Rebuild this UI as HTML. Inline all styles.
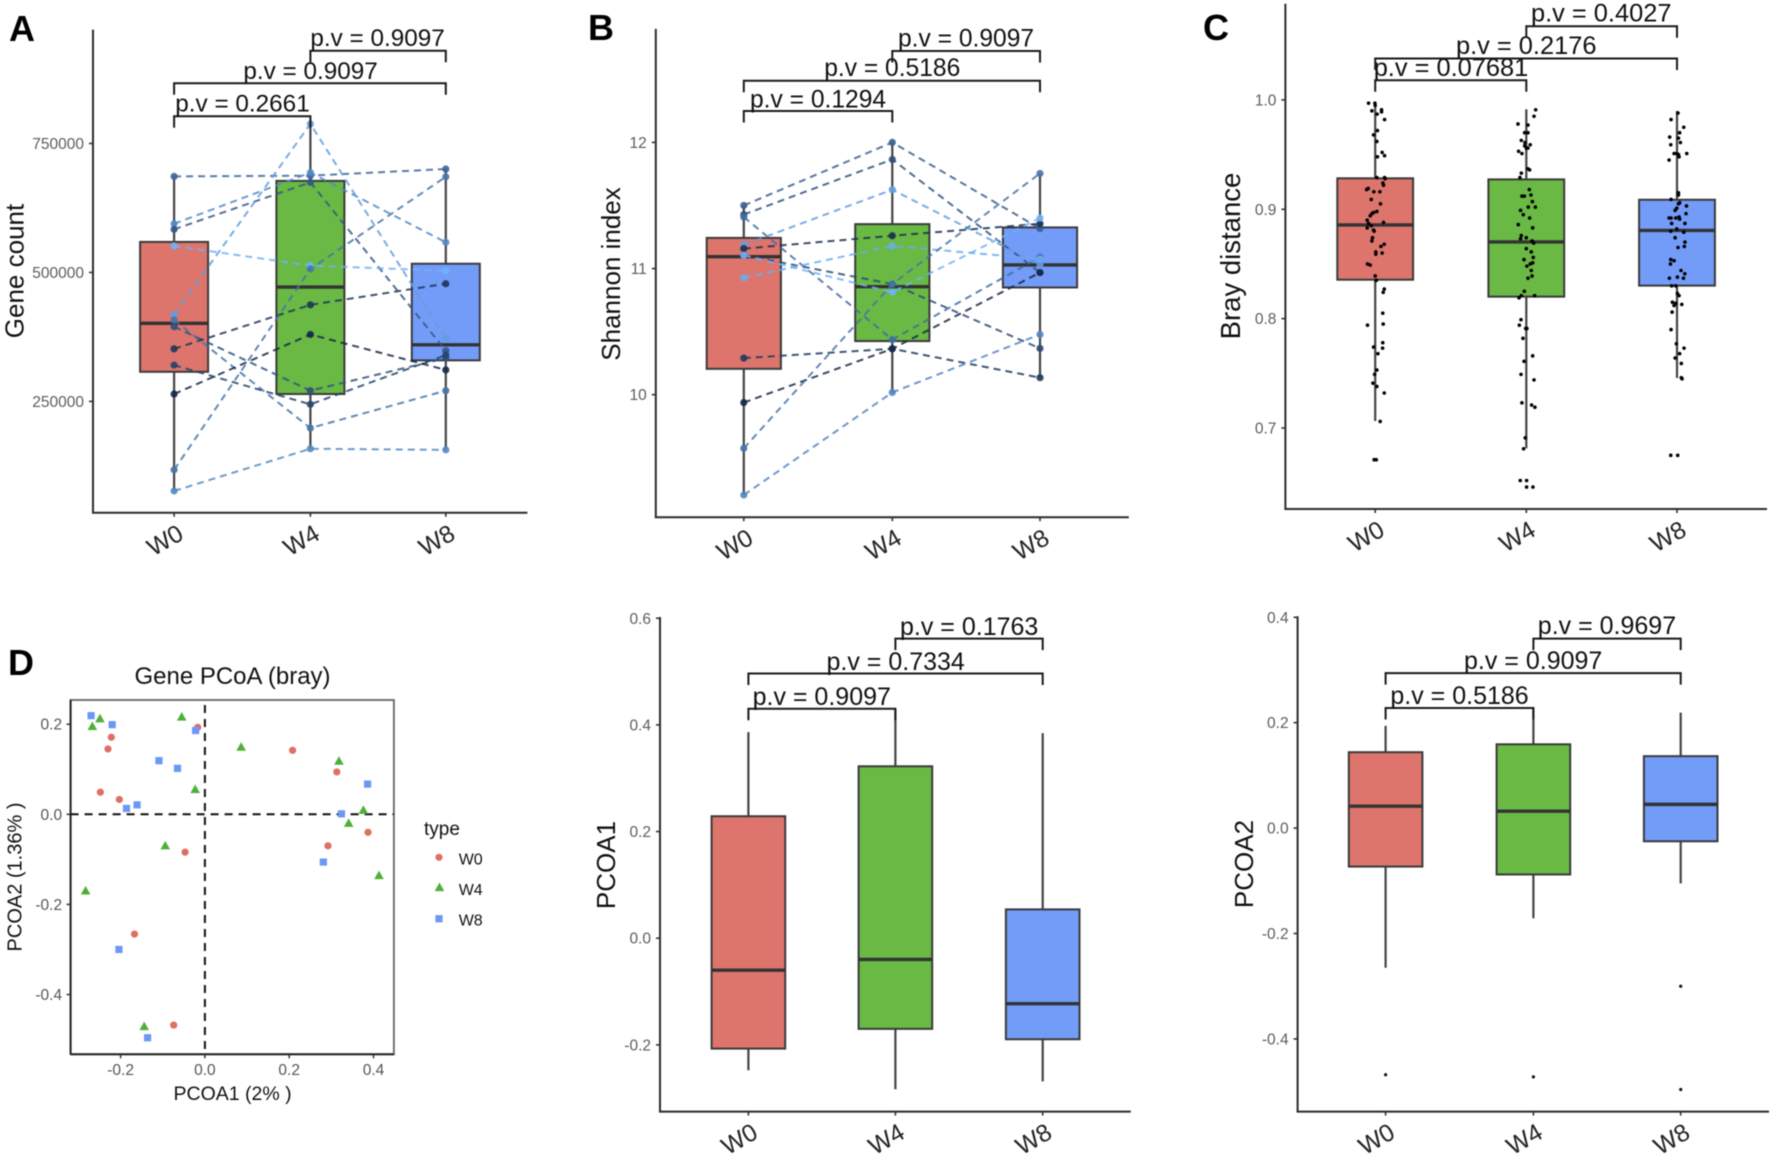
<!DOCTYPE html>
<html lang="en">
<head>
<meta charset="utf-8">
<title>Gene count, Shannon, Bray distance and PCoA panels</title>
<style>
html,body{margin:0;padding:0;background:#fff;width:1772px;height:1154px;overflow:hidden}
svg{display:block;font-family:"Liberation Sans",Arial,sans-serif;filter:blur(0.4px)}
.panel-letter{font-size:36px;font-weight:bold;fill:#000}
.ylab{font-size:26px;fill:#111}
</style>
</head>
<body>
<svg id="figure" xmlns="http://www.w3.org/2000/svg" width="1772" height="1154" viewBox="0 0 1772 1154">
  <rect width="1772" height="1154" fill="#fff"/>
  <text class="panel-letter" x="9" y="41">A</text>
  <text class="panel-letter" x="588" y="40">B</text>
  <text class="panel-letter" x="1203" y="40">C</text>
  <text class="panel-letter" x="8" y="675">D</text>

  <text class="ylab" transform="translate(23.7,271) rotate(-90)" text-anchor="middle">Gene count</text>
  <text class="ylab" transform="translate(619.8,274) rotate(-90)" text-anchor="middle">Shannon index</text>
  <text class="ylab" transform="translate(1240,256) rotate(-90)" text-anchor="middle" style="font-size:27.5px">Bray distance</text>
  <text class="ylab" transform="translate(615,865) rotate(-90)" text-anchor="middle">PCOA1</text>
  <text class="ylab" transform="translate(1253,864) rotate(-90)" text-anchor="middle">PCOA2</text>

  <text x="232.5" y="684" text-anchor="middle" font-size="24" fill="#111">Gene PCoA (bray)</text>
  <text transform="translate(21.3,877) rotate(-90)" text-anchor="middle" font-size="20" fill="#111">PCOA2 (1.36% )</text>
  <text x="232.6" y="1100" text-anchor="middle" font-size="19.5" fill="#111">PCOA1 (2% )</text>
  <text x="424" y="835" font-size="19" fill="#111">type</text>
</svg>

<script>
/* ---------- shared data ---------- */
const categories = ['W0', 'W4', 'W8'];
const boxColors = ['#DD756D', '#69B944', '#739CF8'];

/* ---------- Panel A: gene count ---------- */
const geneTicks = [250000, 500000, 750000];
const geneTickLabels = ['250000', '500000', '750000'];
const geneLow = [76400, 158200, 156000];
const geneQ1 = [307400, 264300, 329600];
const geneMedian = [401400, 471700, 359800];
const geneQ3 = [559200, 677500, 516900];
const geneHigh = [686000, 788000, 700500];
const genePairsW0 = [686200, 594400, 583600, 551300, 418600, 407800, 394900, 351900, 320300, 264300, 117300, 76400];
const genePairsW4 = [687600, 693400, 674700, 513300, 788000, 198300, 270800, 437200, 244300, 379800, 506800, 158200];
const genePairsW8 = [700500, 558500, 348300, 503200, 372000, 270800, 333900, 478100, 339700, 311000, 685500, 156000];
const geneShade = [0.45, 0.7, 0.35, 1.0, 0.85, 0.55, 0.3, 0.1, 0.2, 0.0, 0.55, 0.7];
const genePValues = ['p.v = 0.2661', 'p.v = 0.9097', 'p.v = 0.9097'];

/* ---------- Panel B: Shannon index ---------- */
const shannonTicks = [10, 11, 12];
const shannonTickLabels = ['10', '11', '12'];
const shannonLow = [9.205, 10.018, 10.135];
const shannonQ1 = [10.205, 10.425, 10.850];
const shannonMedian = [11.094, 10.856, 11.029];
const shannonQ3 = [11.243, 11.352, 11.326];
const shannonHigh = [11.5, 12.0, 11.754];
const shannonPairsW0 = [11.5, 11.428, 11.408, 11.188, 11.158, 11.106, 11.106, 10.927, 10.29, 9.938, 9.575, 9.205];
const shannonPairsW4 = [12.0, 11.865, 10.437, 11.625, 11.26, 10.877, 10.812, 11.179, 10.364, 10.364, 10.877, 10.018];
const shannonPairsW8 = [11.317, 10.968, 11.09, 11.03, 11.355, 10.367, 11.40, 11.076, 10.135, 10.968, 11.754, 10.478];
const shannonShade = [0.4, 0.3, 0.5, 0.85, 0.05, 0.25, 1.0, 0.95, 0.12, 0.0, 0.55, 0.68];
const shannonPValues = ['p.v = 0.1294', 'p.v = 0.5186', 'p.v = 0.9097'];

/* ---------- Panel C: Bray distance ---------- */
const brayTicks = [0.7, 0.8, 0.9, 1.0];
const brayTickLabels = ['0.7', '0.8', '0.9', '1.0'];
const brayLow = [0.7064, 0.6814, 0.7457];
const brayQ1 = [0.8356, 0.8201, 0.8302];
const brayMedian = [0.8857, 0.8701, 0.8806];
const brayQ3 = [0.9283, 0.9273, 0.9087];
const brayHigh = [0.9983, 0.9915, 0.9898];
const brayPValues = ['p.v = 0.07681', 'p.v = 0.2176', 'p.v = 0.4027'];
const brayW0 = [.997,.997,.995,.990,.991,.989,.987,.982,.972,.968,.962,.952,.949,.948,.929,.929,.928,.924,.922,.919,.918,.916,.916,.909,.905,.898,.897,.896,.894,.890,.887,.888,.885,.883,.881,.880,.874,.871,.868,.866,.861,.859,.860,.850,.849,.839,.835,.827,.824,.805,.794,.795,.778,.774,.773,.768,.753,.749,.741,.738,.732,.706,.671,.671];
const jitterW0 = [-.044,-.002,0,-.022,.042,.042,.013,.062,.015,-.011,.011,.046,.062,.015,.011,.062,.066,.051,.055,-.046,-.057,-.009,.031,-.026,.035,.011,-.011,-.022,-.033,-.053,-.044,.055,-.026,-.053,-.011,-.007,-.018,-.022,.060,.038,.004,.004,.046,-.051,-.033,0,.007,.06,.053,.05,-.051,.053,.05,-.011,.049,.018,.011,-.004,-.015,.011,.06,.033,-.007,.007];
const brayW4 = [.991,.985,.978,.977,.970,.970,.963,.961,.959,.958,.956,.956,.953,.951,.937,.936,.933,.929,.918,.912,.912,.913,.907,.902,.902,.899,.895,.892,.886,.883,.876,.873,.874,.871,.869,.864,.861,.856,.854,.850,.851,.848,.844,.839,.837,.825,.821,.819,.821,.799,.794,.791,.791,.782,.766,.761,.749,.744,.723,.721,.719,.691,.681,.652,.652,.646,.646];
const jitterW4 = [.062,.051,-.055,.011,-.011,.011,-.033,-.009,.026,-.011,.011,0,-.051,-.029,.011,.022,-.033,-.042,.02,-.029,-.013,.031,.04,.06,.013,-.038,-.02,.022,-.053,.042,-.033,-.038,0,.038,.049,0,.033,.046,-.015,.026,.042,.004,.033,.038,.011,-.013,-.033,-.048,.055,-.035,-.046,-.004,.004,-.022,.042,-.015,-.035,.051,-.029,.035,.057,-.007,-.018,-.04,.002,.002,.044];
const brayW8 = [.988,.982,.975,.970,.966,.965,.961,.959,.951,.951,.951,.950,.948,.945,.915,.913,.909,.906,.905,.903,.901,.899,.896,.892,.892,.892,.893,.891,.887,.887,.880,.882,.879,.874,.870,.866,.865,.854,.853,.850,.844,.841,.838,.837,.837,.830,.830,.823,.821,.815,.812,.814,.813,.806,.790,.777,.773,.768,.764,.759,.746,.745,.675,.675];
const jitterW8 = [.004,-.042,.042,.015,-.051,.007,.020,-.044,-.022,-.004,.062,.007,.011,-.055,.007,.007,-.042,.015,.007,.06,-.004,-.015,.057,-.042,-.055,-.011,.011,.015,.05,-.038,-.044,-.004,.042,-.015,.05,.046,.004,-.044,-.022,-.046,.024,.049,0,.04,-.053,-.038,-.011,0,.011,-.033,-.022,-.011,.029,-.035,-.042,-.007,.044,.015,-.015,.026,.026,.031,-.044,.002];

/* ---------- Panel D: PCoA scatter ---------- */
const pcoaXTicks = [-0.2, 0, 0.2, 0.4];
const pcoaXTickLabels = ['-0.2', '0.0', '0.2', '0.4'];
const pcoaYTicks = [0.2, 0, -0.2, -0.4];
const pcoaYTickLabels = ['0.2', '0.0', '-0.2', '-0.4'];
const pcoaW0X = [-.017,-.222,-.230,.208,.313,-.248,-.203,.387,.292,-.047,-.167,-.074];
const pcoaW0Y = [.193,.171,.145,.142,.094,.049,.033,-.040,-.070,-.084,-.266,-.468];
const pcoaW4X = [-.249,-.267,-.055,.086,.318,-.023,.376,.341,-.094,.413,-.283,-.144];
const pcoaW4Y = [.212,.195,.216,.149,.118,.055,.009,-.020,-.070,-.136,-.170,-.471];
const pcoaW8X = [-.270,-.220,-.022,-.109,-.065,.386,-.161,-.186,.324,.281,-.204,-.136];
const pcoaW8Y = [.219,.199,.186,.119,.102,.067,.021,.013,.001,-.106,-.300,-.496];

/* ---------- Panel E: PCOA1 boxes ---------- */
const pc1Ticks = [-0.2, 0, 0.2, 0.4, 0.6];
const pc1TickLabels = ['-0.2', '0.0', '0.2', '0.4', '0.6'];
const pc1Low = [-0.2476, -0.2833, -0.2685];
const pc1Q1 = [-0.207, -0.170, -0.1895];
const pc1Median = [-0.060, -0.0398, -0.1228];
const pc1Q3 = [0.2287, 0.3224, 0.054];
const pc1High = [0.3865, 0.43, 0.3845];
const pc1PValues = ['p.v = 0.9097', 'p.v = 0.7334', 'p.v = 0.1763'];

/* ---------- Panel F: PCOA2 boxes ---------- */
const pc2Ticks = [-0.4, -0.2, 0, 0.2, 0.4];
const pc2TickLabels = ['-0.4', '-0.2', '0.0', '0.2', '0.4'];
const pc2Low = [-0.265, -0.171, -0.105];
const pc2Q1 = [-0.073, -0.088, -0.025];
const pc2Median = [0.0416, 0.032, 0.045];
const pc2Q3 = [0.144, 0.159, 0.1365];
const pc2High = [0.194, 0.227, 0.219];
const pc2OutlierGroup = [0, 1, 2, 2];
const pc2OutlierValue = [-0.468, -0.472, -0.300, -0.496];
const pc2PValues = ['p.v = 0.5186', 'p.v = 0.9097', 'p.v = 0.9697'];

/* ---------- drawing helpers ---------- */
const NS = 'http://www.w3.org/2000/svg';
const root = document.getElementById('figure');

function make(parent, tag, attrs, name) {
  const el = document.createElementNS(NS, tag);
  for (const k in attrs) el.setAttribute(k, attrs[k]);
  
  
  parent.appendChild(el);
  return el;
}
function label(parent, str, attrs, name) {
  const el = make(parent, 'text', attrs, name);
  el.textContent = str;
  return el;
}
function linear(v1, p1, v2, p2) {
  return v => p1 + (v - v1) * (p2 - p1) / (v2 - v1);
}
function shadeColor(t, a) {
  const lo = [20, 40, 70], hi = [112, 178, 250];
  const c = lo.map((l, i) => Math.round(l + (hi[i] - l) * t));
  return 'rgba(' + c[0] + ',' + c[1] + ',' + c[2] + ',' + a + ')';
}

function drawAxes(g, lay, y, ticks, tickLabels) {
  make(g, 'line', {x1: lay.left, x2: lay.left, y1: lay.top, y2: lay.bottom, stroke: '#2b2b2b', 'stroke-width': 2}, 'y-axis-line');
  make(g, 'line', {x1: lay.left - 1, x2: lay.right, y1: lay.bottom, y2: lay.bottom, stroke: '#2b2b2b', 'stroke-width': 2}, 'x-axis-line');
  ticks.forEach((t, i) => {
    make(g, 'line', {x1: lay.left - 4, x2: lay.left, y1: y(t), y2: y(t), stroke: '#333', 'stroke-width': 1.6}, 'y-tick');
    label(g, tickLabels[i], {x: lay.left - 9, y: y(t) + 5.5, 'text-anchor': 'end', 'font-size': 15.5, fill: '#5c5c5c'}, 'y-tick-label');
  });
  categories.forEach((c, i) => {
    const x = lay.cats[i];
    make(g, 'line', {x1: x, x2: x, y1: lay.bottom, y2: lay.bottom + 4, stroke: '#333', 'stroke-width': 1.6}, 'x-tick');
    label(g, c, {transform: 'translate(' + (x + 11) + ',' + (lay.bottom + 25.5) + ') rotate(-30)', 'text-anchor': 'end', 'font-size': 24.5, fill: '#222'}, 'x-tick-label');
  });
}

function drawBoxes(g, lay, y, low, q1, med, q3, high) {
  categories.forEach((c, i) => {
    const x = lay.cats[i];
    make(g, 'line', {x1: x, x2: x, y1: y(high[i]), y2: y(low[i]), stroke: '#444', 'stroke-width': 2.2}, 'whisker-' + c);
    make(g, 'rect', {x: x - lay.hw, y: y(q3[i]), width: lay.hw * 2, height: y(q1[i]) - y(q3[i]), fill: boxColors[i], stroke: '#3a3a3a', 'stroke-width': 2}, 'box-' + c);
    make(g, 'line', {x1: x - lay.hw, x2: x + lay.hw, y1: y(med[i]), y2: y(med[i]), stroke: '#333', 'stroke-width': 3.4}, 'median-' + c);
  });
}

function drawPairs(g, lay, y, a, b, c, shade) {
  a.forEach((v, i) => {
    const col = shadeColor(shade[i], 0.85);
    const pts = [a[i], b[i], c[i]].map((val, k) => lay.cats[k] + ',' + y(val)).join(' ');
    make(g, 'polyline', {points: pts, fill: 'none', stroke: col, 'stroke-width': 2, 'stroke-dasharray': '7 5'}, 'paired-line');
  });
  a.forEach((v, i) => {
    [a[i], b[i], c[i]].forEach((val, k) => {
      make(g, 'circle', {cx: lay.cats[k], cy: y(val), r: 3.6, fill: shadeColor(shade[i], 0.9)}, 'paired-point');
    });
  });
}

function drawBrackets(g, lay, pvals) {
  const spans = [[0, 1], [0, 2], [1, 2]];
  spans.forEach((s, i) => {
    const yb = lay.brackets[i], x1 = lay.cats[s[0]], x2 = lay.cats[s[1]];
    const d = 'M' + x1 + ' ' + (yb + 11.5) + 'V' + yb + 'H' + x2 + 'V' + (yb + 11.5);
    make(g, 'path', {d: d, fill: 'none', stroke: '#1a1a1a', 'stroke-width': 2}, 'significance-bracket');
    label(g, pvals[i], {x: lay.textX[i], y: lay.textY[i], 'font-size': lay.pSize, fill: '#111'}, 'p-value-label');
  });
}

function panel(name) {
  const g = make(root, 'g', {}, name);
  return g;
}

/* ---------- Panel A ---------- */
(function () {
  const lay = {left: 93, right: 527.4, top: 29.6, bottom: 512.8, cats: [174.1, 310.4, 445.8], hw: 34, pSize: 24.3,
    brackets: [116.2, 83.2, 50.7], textX: [175.3, 243.4, 310.4], textY: [111.4, 78.8, 46.2]};
  const g = panel('gene-count-panel');
  const y = linear(250000, 401.4, 750000, 143.5);
  drawAxes(g, lay, y, geneTicks, geneTickLabels);
  drawBoxes(g, lay, y, geneLow, geneQ1, geneMedian, geneQ3, geneHigh);
  drawPairs(g, lay, y, genePairsW0, genePairsW4, genePairsW8, geneShade);
  drawBrackets(g, lay, genePValues);
})();

/* ---------- Panel B ---------- */
(function () {
  const lay = {left: 655.8, right: 1128.8, top: 28.9, bottom: 517.2, cats: [743.8, 892.3, 1040], hw: 37.1, pSize: 24.6,
    brackets: [111, 80.7, 51], textX: [750, 824.2, 898], textY: [107.3, 76.2, 46.6]};
  const g = panel('shannon-panel');
  const y = linear(10, 394.7, 12, 142.4);
  drawAxes(g, lay, y, shannonTicks, shannonTickLabels);
  drawBoxes(g, lay, y, shannonLow, shannonQ1, shannonMedian, shannonQ3, shannonHigh);
  drawPairs(g, lay, y, shannonPairsW0, shannonPairsW4, shannonPairsW8, shannonShade);
  drawBrackets(g, lay, shannonPValues);
})();

/* ---------- Panel C ---------- */
(function () {
  const lay = {left: 1285.4, right: 1767, top: 3.7, bottom: 509, cats: [1375.2, 1526.3, 1677], hw: 37.9, pSize: 25.4,
    brackets: [80.3, 58.5, 26.3], textX: [1373.7, 1456, 1531], textY: [76.2, 54, 21.5]};
  const g = panel('bray-panel');
  const y = linear(0.7, 428, 1.0, 99.9);
  const x = linear(0, lay.cats[0], 1, lay.cats[1]);
  drawAxes(g, lay, y, brayTicks, brayTickLabels);
  drawBoxes(g, lay, y, brayLow, brayQ1, brayMedian, brayQ3, brayHigh);
  [[brayW0, jitterW0], [brayW4, jitterW4], [brayW8, jitterW8]].forEach((grp, k) => {
    grp[0].forEach((v, i) => {
      make(g, 'circle', {cx: x(k + grp[1][i]), cy: y(v), r: 1.8, fill: '#000'}, 'jitter-point-' + categories[k]);
    });
  });
  drawBrackets(g, lay, brayPValues);
})();

/* ---------- Panel D ---------- */
(function () {
  const g = panel('pcoa-scatter-panel');
  const x = linear(0, 204.9, 0.4, 373.5);
  const y = linear(0, 814.3, -0.4, 994.5);
  const box = {l: 70.6, r: 393.9, t: 700, b: 1054.3};
  make(g, 'rect', {x: box.l, y: box.t, width: box.r - box.l, height: box.b - box.t, fill: '#fff', stroke: '#666', 'stroke-width': 1.8}, 'plot-border');
  make(g, 'line', {x1: box.l, x2: box.l, y1: box.t, y2: box.b, stroke: '#222', 'stroke-width': 2}, 'plot-left-edge');
  make(g, 'line', {x1: box.l, x2: box.r, y1: box.b, y2: box.b, stroke: '#222', 'stroke-width': 2}, 'plot-bottom-edge');
  make(g, 'line', {x1: box.l, x2: box.r, y1: y(0), y2: y(0), stroke: '#111', 'stroke-width': 2, 'stroke-dasharray': '8 6'}, 'zero-line-horizontal');
  make(g, 'line', {x1: x(0), x2: x(0), y1: box.t + 5, y2: box.b, stroke: '#111', 'stroke-width': 2, 'stroke-dasharray': '8 6'}, 'zero-line-vertical');
  pcoaXTicks.forEach((t, i) => {
    make(g, 'line', {x1: x(t), x2: x(t), y1: box.b, y2: box.b + 4, stroke: '#333', 'stroke-width': 1.5}, 'x-tick');
    label(g, pcoaXTickLabels[i], {x: x(t), y: 1075, 'text-anchor': 'middle', 'font-size': 15.5, fill: '#555'}, 'x-tick-label');
  });
  pcoaYTicks.forEach((t, i) => {
    make(g, 'line', {x1: box.l - 4, x2: box.l, y1: y(t), y2: y(t), stroke: '#333', 'stroke-width': 1.5}, 'y-tick');
    label(g, pcoaYTickLabels[i], {x: box.l - 8.5, y: y(t) + 5.5, 'text-anchor': 'end', 'font-size': 15.5, fill: '#555'}, 'y-tick-label');
  });
  const red = '#DE6F64', green = '#4FB038', blue = '#6C97F5';
  function circle(px, py, r, name) { make(g, 'circle', {cx: px, cy: py, r: r, fill: red}, name); }
  function tri(px, py, name) { make(g, 'path', {d: 'M' + px + ' ' + (py - 5) + 'l4.8 8.6h-9.6z', fill: green}, name); }
  function square(px, py, name) { make(g, 'rect', {x: px - 3.6, y: py - 3.6, width: 7.2, height: 7.2, fill: blue}, name); }
  pcoaW0X.forEach((v, i) => circle(x(v), y(pcoaW0Y[i]), 3.6, 'point-w0'));
  pcoaW4X.forEach((v, i) => tri(x(v), y(pcoaW4Y[i]), 'point-w4'));
  pcoaW8X.forEach((v, i) => square(x(v), y(pcoaW8Y[i]), 'point-w8'));
  circle(439, 857.3, 3.6, 'legend-marker-w0');
  tri(439.5, 887.5, 'legend-marker-w4');
  square(439, 918.7, 'legend-marker-w8');
  categories.forEach((c, i) => {
    label(g, c, {x: 458.7, y: 864.3 + i * 30.6, 'font-size': 16, fill: '#111'}, 'legend-label-' + c);
  });
})();

/* ---------- Panel E ---------- */
(function () {
  const lay = {left: 660, right: 1130.8, top: 617, bottom: 1111.6, cats: [748.4, 895.4, 1042.7], hw: 36.8, pSize: 25,
    brackets: [708.7, 673.5, 638.6], textX: [752.6, 826.5, 900], textY: [705, 669.9, 635]};
  const g = panel('pcoa1-panel');
  const y = linear(0, 938.2, 0.4, 724.9);
  drawAxes(g, lay, y, pc1Ticks, pc1TickLabels);
  drawBoxes(g, lay, y, pc1Low, pc1Q1, pc1Median, pc1Q3, pc1High);
  drawBrackets(g, lay, pc1PValues);
})();

/* ---------- Panel F ---------- */
(function () {
  const lay = {left: 1297.6, right: 1769, top: 616.3, bottom: 1111.6, cats: [1385.6, 1533.4, 1680.7], hw: 36.8, pSize: 25,
    brackets: [708, 673.1, 638.6], textX: [1390.4, 1464, 1537.8], textY: [704, 668.8, 634.2]};
  const g = panel('pcoa2-panel');
  const y = linear(0, 828.1, 0.4, 617.3);
  drawAxes(g, lay, y, pc2Ticks, pc2TickLabels);
  drawBoxes(g, lay, y, pc2Low, pc2Q1, pc2Median, pc2Q3, pc2High);
  pc2OutlierValue.forEach((v, i) => {
    make(g, 'circle', {cx: lay.cats[pc2OutlierGroup[i]], cy: y(v), r: 1.6, fill: '#111'}, 'outlier-point');
  });
  drawBrackets(g, lay, pc2PValues);
})();
</script>
</body>
</html>
